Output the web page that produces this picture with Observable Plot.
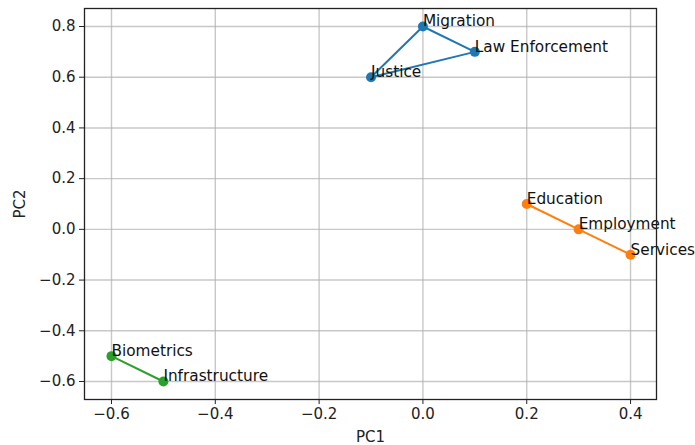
<!DOCTYPE html>
<html>
<head>
<meta charset="utf-8">
<script src="https://cdn.jsdelivr.net/npm/d3@7"></script>
<script src="https://cdn.jsdelivr.net/npm/@observablehq/plot@0.6"></script>
<style>
  html, body { margin: 0; padding: 0; background: #fff; }
  #chart svg { display: block; }
</style>
</head>
<body>
<div id="chart"></div>
<script>
// Data
const blueLabels = ["Justice", "Migration", "Law Enforcement"];
const blueX = [-0.1, 0.0, 0.1];
const blueY = [0.6, 0.8, 0.7];

const orangeLabels = ["Education", "Employment", "Services"];
const orangeX = [0.2, 0.3, 0.4];
const orangeY = [0.1, 0.0, -0.1];

const greenLabels = ["Biometrics", "Infrastructure"];
const greenX = [-0.6, -0.5];
const greenY = [-0.5, -0.6];

const xTicks = [-0.6, -0.4, -0.2, 0.0, 0.2, 0.4];
const yTicks = [-0.6, -0.4, -0.2, 0.0, 0.2, 0.4, 0.6, 0.8];

const colors = {blue: "#1f77b4", orange: "#ff7f0e", green: "#2ca02c"};

function group(labels, xs, ys, color) {
  return labels.map((l, i) => ({label: l, x: xs[i], y: ys[i], color}));
}
const blue = group(blueLabels, blueX, blueY, colors.blue);
const orange = group(orangeLabels, orangeX, orangeY, colors.orange);
const green = group(greenLabels, greenX, greenY, colors.green);
const blueClosed = [...blue, blue[0]];
const all = [...blue, ...orange, ...green];

const font = "DejaVu Sans, sans-serif";
const fmt = d3.format(".1f");

const chart = Plot.plot({
  width: 695,
  height: 445,
  marginLeft: 84,
  marginRight: 39,
  marginTop: 8,
  marginBottom: 46,
  style: {fontFamily: font, fontSize: "15px", color: "#222", background: "#fff"},
  x: {domain: [-0.652, 0.45]},
  y: {domain: [-0.671, 0.871]},
  marks: [
    Plot.gridX(xTicks, {stroke: "#b0b0b0", strokeOpacity: 0.7, strokeWidth: 1.4}),
    Plot.gridY(yTicks, {stroke: "#b0b0b0", strokeOpacity: 0.7, strokeWidth: 1.4}),
    Plot.axisX(xTicks, {tickFormat: fmt, tickSize: 5, tickPadding: 4, fontSize: 15,
      label: "PC1", labelAnchor: "center", labelArrow: "none", labelOffset: 42, stroke: "#222"}),
    Plot.axisY(yTicks, {tickFormat: fmt, tickSize: 5, tickPadding: 4, fontSize: 15,
      label: "PC2", labelAnchor: "center", labelArrow: "none", labelOffset: 70, stroke: "#222"}),
    Plot.line(blueClosed, {x: "x", y: "y", stroke: colors.blue, strokeWidth: 2}),
    Plot.line(orange, {x: "x", y: "y", stroke: colors.orange, strokeWidth: 2}),
    Plot.line(green, {x: "x", y: "y", stroke: colors.green, strokeWidth: 2}),
    Plot.dot(all, {x: "x", y: "y", r: 5, fill: "color", stroke: "none"}),
    Plot.text(all, {x: "x", y: "y", text: "label", textAnchor: "start", dy: -5,
      fontSize: 15.3, fill: "#111"}),
    Plot.frame({stroke: "#222", strokeWidth: 1.3})
  ]
});
document.getElementById("chart").appendChild(chart);
</script>
</body>
</html>
